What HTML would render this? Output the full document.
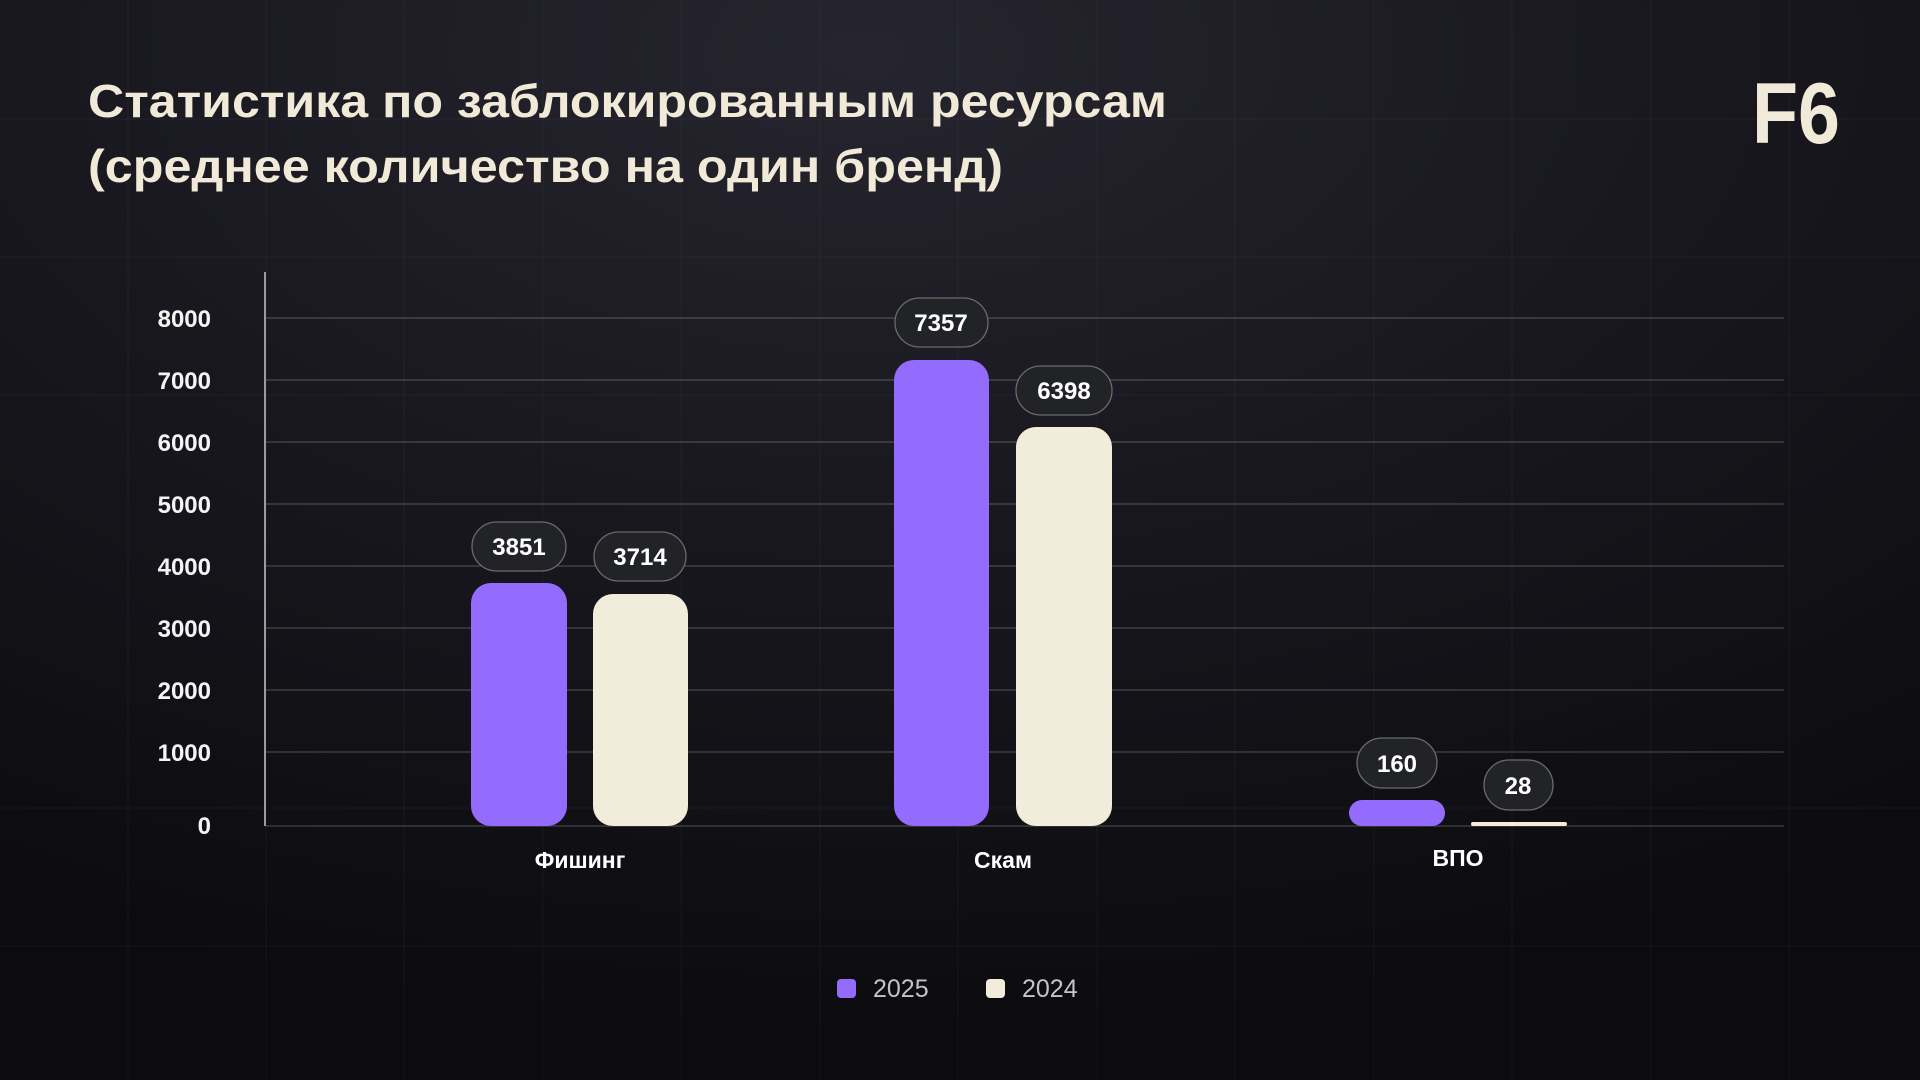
<!DOCTYPE html>
<html><head><meta charset="utf-8"><style>
html,body{margin:0;padding:0;width:1920px;height:1080px;overflow:hidden;background:#111116}
svg{display:block}
text{font-family:"Liberation Sans","DejaVu Sans",sans-serif}
</style></head><body>
<svg width="1920" height="1080" viewBox="0 0 1920 1080" xmlns="http://www.w3.org/2000/svg">
<defs>
<radialGradient id="bg" cx="0.45" cy="0.05" r="0.9">
<stop offset="0" stop-color="#26252f"/>
<stop offset="0.5" stop-color="#18171e"/>
<stop offset="1" stop-color="#0c0c0f"/>
</radialGradient>
</defs>
<rect width="1920" height="1080" fill="url(#bg)"/>
<g stroke="#ffffff" stroke-opacity="0.04" stroke-width="1">
<line x1="128" y1="0" x2="128" y2="1080"/><line x1="266" y1="0" x2="266" y2="1080"/>
<line x1="404" y1="0" x2="404" y2="1080"/><line x1="543" y1="0" x2="543" y2="1080"/>
<line x1="681" y1="0" x2="681" y2="1080"/><line x1="820" y1="0" x2="820" y2="1080"/>
<line x1="958" y1="0" x2="958" y2="1080"/><line x1="1097" y1="0" x2="1097" y2="1080"/>
<line x1="1235" y1="0" x2="1235" y2="1080"/><line x1="1374" y1="0" x2="1374" y2="1080"/>
<line x1="1512" y1="0" x2="1512" y2="1080"/><line x1="1651" y1="0" x2="1651" y2="1080"/>
<line x1="1789" y1="0" x2="1789" y2="1080"/>
<line x1="0" y1="119" x2="1920" y2="119"/><line x1="0" y1="257" x2="1920" y2="257"/>
<line x1="0" y1="395" x2="1920" y2="395"/><line x1="0" y1="808" x2="1920" y2="808"/>
<line x1="0" y1="946" x2="1920" y2="946"/>
</g>
<g fill="#f2ead8" font-weight="bold" font-size="46">
<text x="88" y="117" textLength="1079" lengthAdjust="spacingAndGlyphs">Статистика по заблокированным ресурсам</text>
<text x="88" y="182" textLength="915" lengthAdjust="spacingAndGlyphs">(среднее количество на один бренд)</text>
</g>
<text x="1752" y="143" fill="#f2ead8" font-weight="bold" font-size="86" textLength="88" lengthAdjust="spacingAndGlyphs">F6</text>
<g stroke="#ffffff" stroke-opacity="0.22" stroke-width="1.3">
<line x1="266" y1="318" x2="1784" y2="318"/><line x1="266" y1="380" x2="1784" y2="380"/>
<line x1="266" y1="442" x2="1784" y2="442"/><line x1="266" y1="504" x2="1784" y2="504"/>
<line x1="266" y1="566" x2="1784" y2="566"/><line x1="266" y1="628" x2="1784" y2="628"/>
<line x1="266" y1="690" x2="1784" y2="690"/><line x1="266" y1="752" x2="1784" y2="752"/>
<line x1="266" y1="826" x2="1784" y2="826"/>
</g>
<line x1="265" y1="272" x2="265" y2="826" stroke="#9a9aa0" stroke-width="2"/>
<g fill="#f4f4f4" font-size="24" font-weight="bold" text-anchor="end">
<text x="211" y="327">8000</text><text x="211" y="389">7000</text><text x="211" y="451">6000</text>
<text x="211" y="513">5000</text><text x="211" y="575">4000</text><text x="211" y="637">3000</text>
<text x="211" y="699">2000</text><text x="211" y="761">1000</text><text x="211" y="834">0</text>
</g>
<g>
<path d="M471 826 V603 a20 20 0 0 1 20 -20 h56 a20 20 0 0 1 20 20 V806 a20 20 0 0 1 -20 20 h-56 a20 20 0 0 1 -20 -20z" fill="#936bfd"/>
<path d="M593 826 V614 a20 20 0 0 1 20 -20 h55 a20 20 0 0 1 20 20 V806 a20 20 0 0 1 -20 20 h-55 a20 20 0 0 1 -20 -20z" fill="#f2ecdb"/>
<rect x="894" y="360" width="95" height="466" rx="20" fill="#936bfd"/>
<rect x="1016" y="427" width="96" height="399" rx="20" fill="#f2ecdb"/>
<rect x="1349" y="800" width="96" height="26" rx="13" fill="#936bfd"/>
<rect x="1471" y="822" width="96" height="4" rx="2" fill="#f2ecdb"/>
</g>
<g fill="#222327" stroke="#6a6a70" stroke-width="1.3">
<rect x="472" y="522" width="94" height="49" rx="24.5"/>
<rect x="594" y="532" width="92" height="49" rx="24.5"/>
<rect x="895" y="298" width="93" height="49" rx="24.5"/>
<rect x="1016" y="366" width="96" height="49" rx="24.5"/>
<rect x="1357" y="738" width="80" height="50" rx="25"/>
<rect x="1484" y="760" width="69" height="50" rx="25"/>
</g>
<g fill="#ffffff" font-size="24" font-weight="bold" text-anchor="middle">
<text x="519" y="555">3851</text><text x="640" y="565">3714</text>
<text x="941" y="331">7357</text><text x="1064" y="399">6398</text>
<text x="1397" y="772">160</text><text x="1518" y="794">28</text>
</g>
<g fill="#ffffff" font-size="23" font-weight="bold" text-anchor="middle">
<text x="580" y="868">Фишинг</text><text x="1003" y="868">Скам</text><text x="1458" y="866">ВПО</text>
</g>
<rect x="837" y="979" width="19" height="19" rx="4" fill="#936bfd"/>
<rect x="986" y="979" width="19" height="19" rx="4" fill="#f2ecdb"/>
<g fill="#c4c4c8" font-size="25">
<text x="873" y="997">2025</text><text x="1022" y="997">2024</text>
</g>
</svg>
</body></html>
